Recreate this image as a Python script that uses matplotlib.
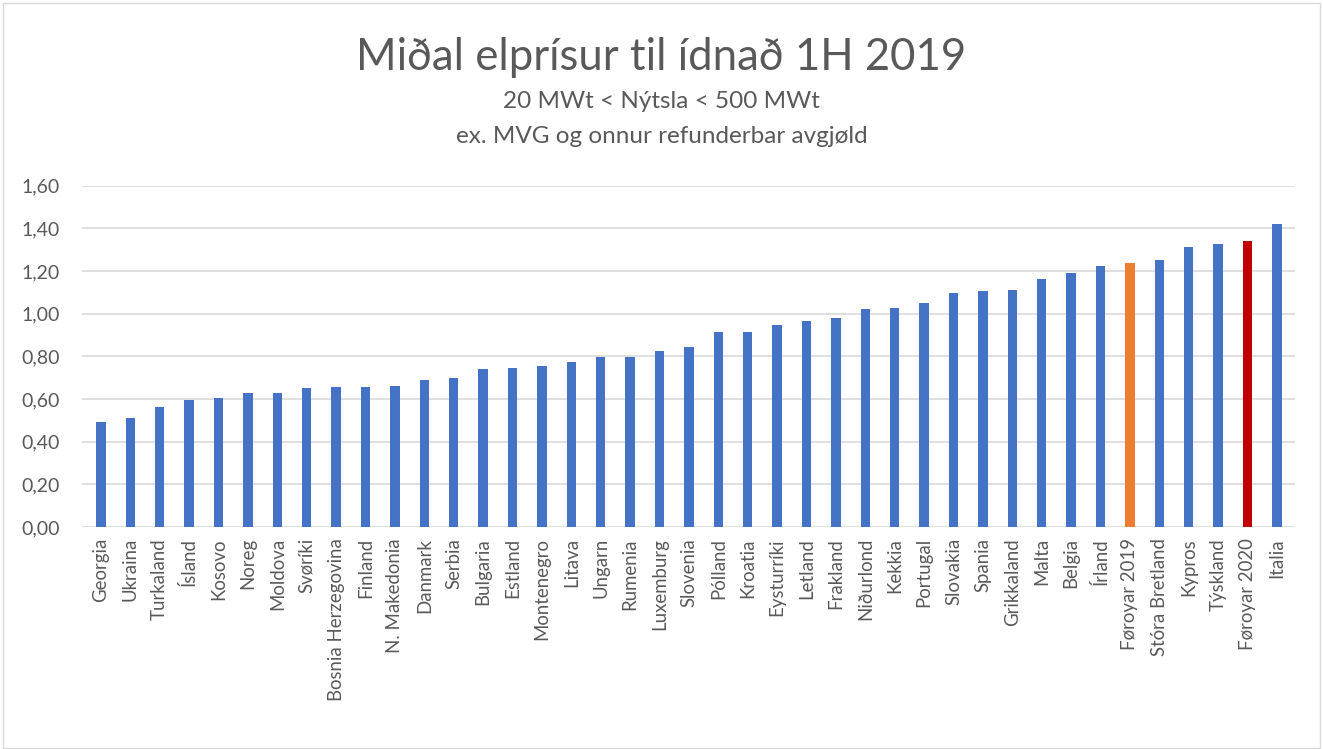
import matplotlib.pyplot as plt
from matplotlib.ticker import FuncFormatter
from matplotlib.patches import Rectangle

plt.rcParams['font.family'] = ['Lato', 'DejaVu Sans']

lond = ["Georgia", "Ukraina", "Turkaland", "Ísland", "Kosovo", "Noreg", "Moldova",
        "Svøríki", "Bosnia Herzegovina", "Finland", "N. Makedonia", "Danmark",
        "Serbia", "Bulgaria", "Estland", "Montenegro", "Litava", "Ungarn",
        "Rumenia", "Luxemburg", "Slovenia", "Pólland", "Kroatia", "Eysturríki",
        "Letland", "Frakland", "Niðurlond", "Kekkia", "Portugal", "Slovakia",
        "Spania", "Grikkaland", "Malta", "Belgia", "Írland", "Føroyar 2019",
        "Stóra Bretland", "Kypros", "Týskland", "Føroyar 2020", "Italia"]
prisur = [0.492, 0.511, 0.563, 0.596, 0.604, 0.629, 0.629, 0.651, 0.657, 0.657,
          0.663, 0.690, 0.699, 0.741, 0.745, 0.755, 0.773, 0.799, 0.799, 0.824,
          0.844, 0.912, 0.916, 0.948, 0.966, 0.979, 1.021, 1.026, 1.051, 1.099,
          1.105, 1.110, 1.163, 1.190, 1.222, 1.238, 1.252, 1.314, 1.327, 1.341,
          1.419]

litir = []
for land in lond:
    if land == "Føroyar 2019":
        litir.append("#ED7D31")
    elif land == "Føroyar 2020":
        litir.append("#C00000")
    else:
        litir.append("#4472C4")

fig = plt.figure(figsize=(13.23, 7.49), dpi=100)
ax = fig.add_axes([0.062, 0.2964, 0.917, 0.4556])

ax.bar(range(len(lond)), prisur, width=0.32, color=litir, zorder=3)

ax.set_ylim(0, 1.6)
ax.set_xlim(-0.64, len(lond) - 0.38)
ax.set_yticks([i * 0.2 for i in range(9)])
ax.yaxis.set_major_formatter(FuncFormatter(lambda v, p: f"{v:.2f}".replace(".", ",")))
ax.set_xticks(range(len(lond)))
ax.set_xticklabels(lond, rotation=90, fontsize=13.4, color="#595959")
ax.tick_params(axis="y", labelsize=14, labelcolor="#595959", length=0, pad=16)
ax.tick_params(axis="x", length=0, pad=8)
ax.grid(axis="y", color="#D9D9D9", linewidth=1.2, zorder=0)
for s in ax.spines.values():
    s.set_visible(False)

fig.text(0.5, 0.923, "Miðal elprísur til ídnað 1H 2019", ha="center", va="center",
         fontsize=31.5, color="#595959")
fig.text(0.5, 0.865, "20 MWt < Nýtsla < 500 MWt", ha="center", va="center",
         fontsize=17.5, color="#595959")
fig.text(0.5, 0.818, "ex. MVG og onnur refunderbar avgjøld", ha="center", va="center",
         fontsize=17.5, color="#595959")

fig.patches.append(Rectangle((0.002, 0.002), 0.996, 0.994, transform=fig.transFigure,
                             fill=False, edgecolor="#D9D9D9", linewidth=1))

plt.savefig("out.png", dpi=100)
